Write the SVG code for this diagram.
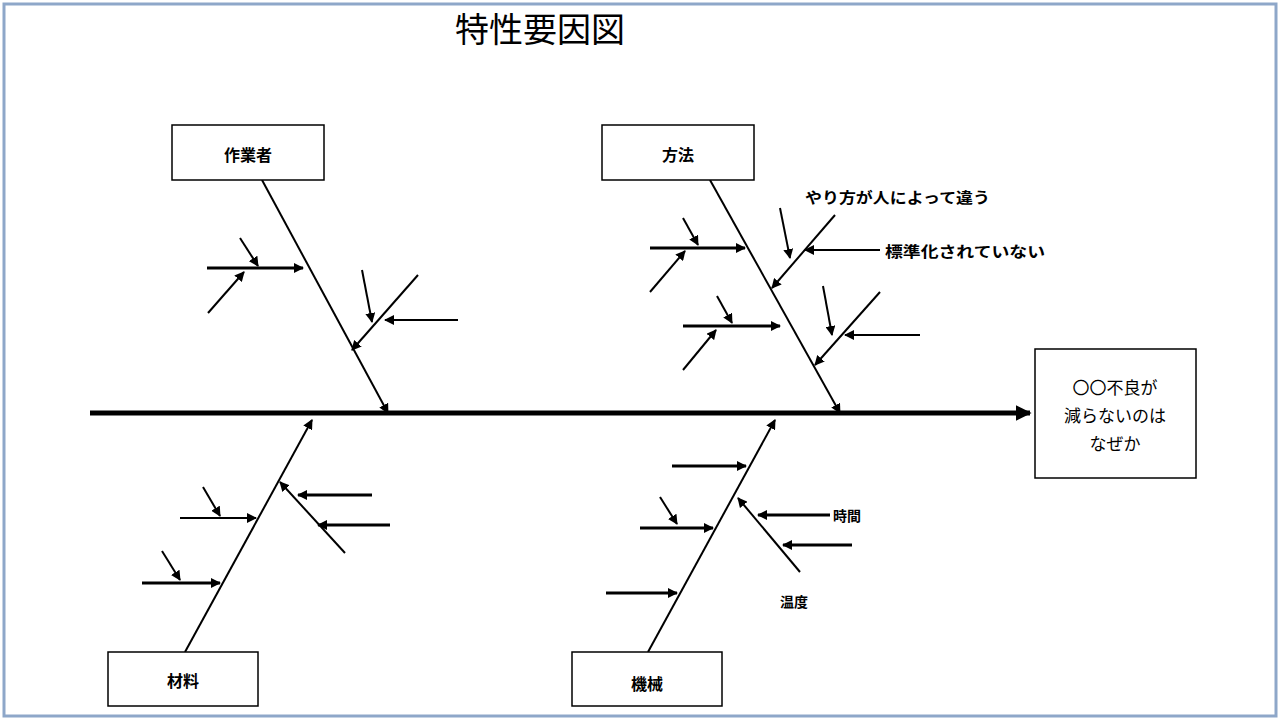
<svg xmlns="http://www.w3.org/2000/svg" width="1280" height="720" viewBox="0 0 1280 720">
<defs>
<marker id="ah" viewBox="0 0 10 10" refX="9" refY="5" markerWidth="4" markerHeight="4" orient="auto" markerUnits="userSpaceOnUse"><path d="M0,0L10,5L0,10z" fill="#000"/></marker>
<marker id="as" viewBox="0 0 10 10" refX="9" refY="5" markerWidth="10" markerHeight="10" orient="auto" markerUnits="userSpaceOnUse"><path d="M0,0L10,5L0,10z" fill="#000"/></marker>
<marker id="ab" viewBox="0 0 10 10" refX="9" refY="5" markerWidth="16" markerHeight="16" orient="auto" markerUnits="userSpaceOnUse"><path d="M0,0L10,5L0,10z" fill="#000"/></marker>
</defs>
<style>
.box{fill:#fff;stroke:#000;stroke-width:1.5}
.t{font-family:"Noto Sans CJK JP","Noto Sans",sans-serif;fill:#000}
.bd{font-weight:bold}
.s{stroke:#000;stroke-width:2;fill:none;marker-end:url(#as)}
.h{stroke:#000;stroke-width:3;fill:none;marker-end:url(#as)}
</style>
<rect x="0" y="0" width="1280" height="720" fill="#fff"/>
<rect x="4" y="4" width="1272" height="712" fill="none" stroke="#8ea7c9" stroke-width="3"/>
<text class="t" x="455" y="42" font-size="34">特性要因図</text>
<g id="connectors">
<line x1="90" y1="413" x2="1030" y2="413" stroke="#000" stroke-width="5" marker-end="url(#ab)"/>
<line class="s" x1="262" y1="180" x2="388" y2="413"/>
<line class="h" x1="207" y1="268" x2="303" y2="268"/>
<line class="s" x1="240" y1="238" x2="258" y2="266"/>
<line class="s" x1="208" y1="313" x2="244" y2="272"/>
<line class="s" x1="418" y1="275" x2="352" y2="350"/>
<line class="s" x1="362" y1="270" x2="372" y2="322"/>
<line class="s" x1="458" y1="320" x2="385" y2="320"/>
<line class="s" x1="710" y1="180" x2="840" y2="413"/>
<line class="h" x1="650" y1="248" x2="745" y2="248"/>
<line class="s" x1="683" y1="218" x2="698" y2="245"/>
<line class="s" x1="650" y1="292" x2="685" y2="251"/>
<line class="h" x1="683" y1="326" x2="780" y2="326"/>
<line class="s" x1="717" y1="296" x2="732" y2="323"/>
<line class="s" x1="683" y1="370" x2="716" y2="330"/>
<line class="s" x1="835" y1="215" x2="772" y2="288"/>
<line class="s" x1="780" y1="208" x2="790" y2="258"/>
<line class="s" x1="880" y1="250" x2="805" y2="250"/>
<line class="s" x1="880" y1="292" x2="815" y2="365"/>
<line class="s" x1="823" y1="286" x2="832" y2="335"/>
<line class="s" x1="920" y1="335" x2="845" y2="335"/>
<line class="s" x1="185" y1="652" x2="312" y2="420"/>
<line class="s" x1="180" y1="518" x2="256" y2="518"/>
<line class="s" x1="203" y1="487" x2="220" y2="516"/>
<line class="h" x1="142" y1="583" x2="220" y2="583"/>
<line class="s" x1="162" y1="551" x2="180" y2="580"/>
<line class="s" x1="345" y1="553" x2="280" y2="482"/>
<line class="h" x1="372" y1="495" x2="298" y2="495"/>
<line class="h" x1="390" y1="525" x2="318" y2="525"/>
<line class="s" x1="648" y1="652" x2="775" y2="420"/>
<line class="h" x1="672" y1="466" x2="746" y2="466"/>
<line class="h" x1="640" y1="528" x2="713" y2="528"/>
<line class="s" x1="660" y1="497" x2="677" y2="524"/>
<line class="h" x1="606" y1="593" x2="677" y2="593"/>
<line class="s" x1="800" y1="572" x2="738" y2="498"/>
<line class="h" x1="830" y1="515" x2="758" y2="515"/>
<line class="h" x1="852" y1="545" x2="783" y2="545"/>
</g>
<g id="n-worker"><rect class="box" x="172" y="125" width="152" height="55"/><text class="t bd" x="248" y="161" font-size="16" text-anchor="middle">作業者</text></g>
<g id="n-method"><rect class="box" x="602" y="125" width="152" height="55"/><text class="t bd" x="678" y="161" font-size="16" text-anchor="middle">方法</text></g>
<g id="n-material"><rect class="box" x="108" y="652" width="150" height="54"/><text class="t bd" x="183" y="687" font-size="16" text-anchor="middle">材料</text></g>
<g id="n-machine"><rect class="box" x="572" y="652" width="150" height="54"/><text class="t bd" x="647" y="690" font-size="16" text-anchor="middle">機械</text></g>
<g id="n-result"><rect class="box" x="1035" y="349" width="161" height="129"/>
<text class="t" font-size="17" text-anchor="middle"><tspan x="1115" y="394">〇〇不良が</tspan><tspan x="1115" y="422">減らないのは</tspan><tspan x="1115" y="450">なぜか</tspan></text></g>
<g id="labels">
<text class="t bd" x="805" y="203" font-size="15" textLength="185" lengthAdjust="spacingAndGlyphs">やり方が人によって違う</text>
<text class="t bd" x="885" y="257" font-size="15" textLength="160" lengthAdjust="spacingAndGlyphs">標準化されていない</text>
<text class="t bd" x="833" y="521" font-size="14">時間</text>
<text class="t bd" x="780" y="607" font-size="14">温度</text>
</g>
</svg>
